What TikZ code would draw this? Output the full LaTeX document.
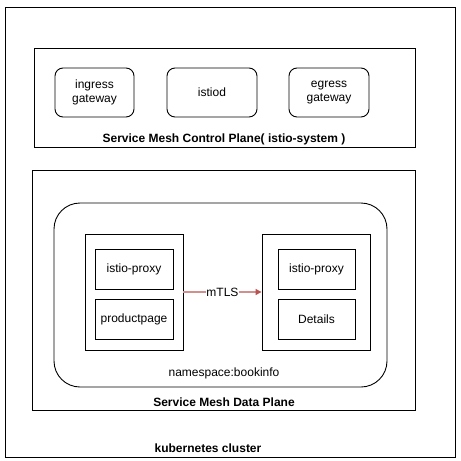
\documentclass[tikz,border=0pt]{standalone}
\usepackage{fontspec}
\setmainfont{Liberation Sans}
\usetikzlibrary{arrows.meta}
\definecolor{mtlsred}{HTML}{B85450}
\begin{document}
\begin{tikzpicture}[x=1pt,y=-1pt,
  box/.style={draw=black,line width=0.9pt,inner sep=0pt},
  pill/.style={box,rounded corners=8pt,align=center},
  lbl/.style={font=\fontsize{12}{14}\selectfont,align=center,inner sep=0pt},
  blbl/.style={font=\fontsize{12}{14}\selectfont\bfseries,inner sep=0pt}]
\useasboundingbox (0,0) rectangle (461,461);
\fill[white] (0,0) rectangle (461,461);
% outer cluster
\draw[box] (5,7) rectangle (455,457);
\node[blbl] (k8s) at (208,448) {kubernetes cluster};
% control plane
\draw[box] (34,48) rectangle (415,147);
\node[blbl] (cplbl) at (224,139) {Service Mesh Control Plane( istio-system )};
\node[pill,minimum width=79pt,minimum height=49pt,lbl] (ing) at (94.5,92.5) {ingress\\gateway};
\node[pill,minimum width=90pt,minimum height=49pt,lbl] (istiod) at (212,92.5) {istiod};
\node[pill,minimum width=80pt,minimum height=49pt,lbl] (eg) at (329,92.5) {egress\\gateway};
% data plane
\draw[box] (32,170) rectangle (415,410);
\node[blbl] (dplbl) at (224,402) {Service Mesh Data Plane};
\draw[box,rounded corners=26pt] (54,203) rectangle (387,387);
\node[lbl] (ns) at (224,373) {namespace:bookinfo};
% pods
\node[box,minimum width=98pt,minimum height=116pt] (podL) at (134,292) {};
\node[box,minimum width=108pt,minimum height=116pt] (podR) at (316,292) {};
\node[box,minimum width=78pt,minimum height=40pt,lbl] (pxL) at (134,269) {istio-proxy};
\node[box,minimum width=78pt,minimum height=40pt,lbl] (pp) at (134,319.5) {productpage};
\node[box,minimum width=77pt,minimum height=40pt,lbl] (pxR) at (316.5,269) {istio-proxy};
\node[box,minimum width=77pt,minimum height=40pt,lbl] (det) at (316.5,319.5) {Details};
% mTLS
\draw[draw=mtlsred!65,line width=1.2pt,-{Triangle[length=6pt,width=6pt,color=mtlsred,fill=mtlsred]}] (podL.east) -- (podR.west) node[midway,lbl,fill=white,inner sep=0.5pt,text=black] (mtls) {mTLS};
\end{tikzpicture}
\end{document}
